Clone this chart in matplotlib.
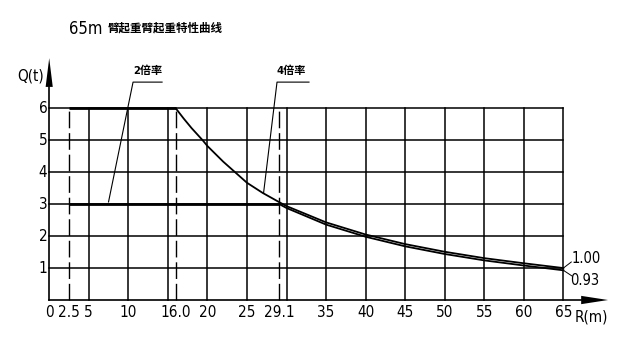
import matplotlib
matplotlib.use('Agg')
import matplotlib.pyplot as plt
from matplotlib import font_manager

# data
r_2x = [16.0, 17, 18, 19.4, 20, 22, 23.5, 25, 27, 29.1, 30, 35, 40, 45, 50, 55, 60, 65]
q_2x = [6.0, 5.68, 5.38, 5.0, 4.82, 4.33, 4.0, 3.67, 3.35, 3.06, 2.94, 2.43, 2.05, 1.75, 1.51, 1.31, 1.15, 1.00]
r_4x = [29.1, 30, 35, 40, 45, 50, 55, 60, 65]
q_4x = [3.0, 2.88, 2.36, 1.98, 1.68, 1.44, 1.24, 1.08, 0.93]
r_start = 2.5
q_max_2x = 6.0
q_max_4x = 3.0

grid_x = [5, 10, 15, 20, 25, 30, 35, 40, 45, 50, 55, 60, 65]
grid_y = [1, 2, 3, 4, 5, 6]
dashed_x = [2.5, 16.0, 29.1]
xtick_pos = [0, 2.5, 5, 10, 16.0, 20, 25, 29.1, 35, 40, 45, 50, 55, 60, 65]
xtick_lab = ['0', '2.5', '5', '10', '16.0', '20', '25', '29.1', '35', '40', '45', '50', '55', '60', '65']
ytick_pos = [1, 2, 3, 4, 5, 6]

# pick a narrow face if one is around
names = {f.name for f in font_manager.fontManager.ttflist}
cond = [f for f in font_manager.fontManager.ttflist
        if f.name == 'DejaVu Sans' and f.stretch in ('condensed', 'semi-condensed')]
if 'Liberation Sans Narrow' in names:
    base, stretch, fs = 'Liberation Sans Narrow', 'normal', 12
elif cond:
    base, stretch, fs = 'DejaVu Sans', 'condensed', 11
else:
    base, stretch, fs = 'Liberation Sans', 'normal', 11
narrow = [base, 'DejaVu Sans']
cjk = [base, 'Noto Sans CJK SC', 'DejaVu Sans']

fig = plt.figure(figsize=(6.31, 3.48), dpi=100)
ax = fig.add_axes([0, 0, 1, 1])
ax.set_xlim(-6.22, 73.55)
ax.set_ylim(-1.502, 9.39)
ax.axis('off')

x_max = grid_x[-1]
y_max = grid_y[-1]

# grid
for gx in grid_x:
    ax.plot([gx, gx], [0, y_max], color='black', lw=1.1)
for gy in grid_y:
    ax.plot([0, x_max], [gy, gy], color='black', lw=1.1)
for dx in dashed_x:
    ax.plot([dx, dx], [0, y_max], color='black', lw=1.0, linestyle=(0, (12, 3.5)))

# axes with arrows
x_end, y_end = 70.65, 7.57
ax.plot([0, x_end - 3.4], [0, 0], color='black', lw=1.2)
ax.plot([0, 0], [0, y_end - 0.9], color='black', lw=1.2)
ax.fill([x_end - 3.4, x_end, x_end - 3.4], [0.13, 0, -0.13], color='black', lw=0)
ax.fill([-0.45, 0, 0.45], [y_end - 0.9, y_end, y_end - 0.9], color='black', lw=0)

# load curves
ax.plot([r_start, r_2x[0]], [q_max_2x, q_max_2x], color='black', lw=2.0, solid_capstyle='butt')
ax.plot([r_start, r_4x[0]], [q_max_4x, q_max_4x], color='black', lw=2.0, solid_capstyle='butt')
ax.plot(r_2x, q_2x, color='black', lw=1.3)
ax.plot(r_4x, q_4x, color='black', lw=1.3)

txt = dict(family=narrow, fontstretch=stretch)

# tick labels
for x, lab in zip(xtick_pos, xtick_lab):
    ax.text(x, -0.38, lab, ha='center', va='center', fontsize=fs, **txt)
for y in ytick_pos:
    ax.text(-0.78, y, str(y), ha='center', va='center', fontsize=fs, **txt)
ax.text(68.6, -0.52, 'R(m)', ha='center', va='center', fontsize=fs, **txt)
ax.text(-2.3, 7.0, 'Q(t)', ha='center', va='center', fontsize=fs, **txt)

# end values
ax.plot([x_max, 66.0], [q_2x[-1], 1.19], color='black', lw=0.7)
ax.plot([x_max, 66.1], [q_4x[-1], 0.75], color='black', lw=0.7)
ax.text(66.0, 1.31, '%.2f' % q_2x[-1], ha='left', va='center', fontsize=fs - 0.5, **txt)
ax.text(65.8, 0.62, '%.2f' % q_4x[-1], ha='left', va='center', fontsize=fs - 0.5, **txt)

# leader labels
ax.plot([7.5, 10.6, 14.27], [3.07, 6.82, 6.82], color='black', lw=0.8)
ax.text(12.5, 7.17, '2倍率', ha='center', va='center', fontsize=8, fontweight='bold',
        family=cjk, fontstretch=stretch)
ax.plot([27.1, 28.8, 32.84], [3.35, 6.82, 6.82], color='black', lw=0.8)
ax.text(30.6, 7.17, '4倍率', ha='center', va='center', fontsize=8, fontweight='bold',
        family=cjk, fontstretch=stretch)

# title
fig.text(69 / 631, 1 - 29 / 348, '65m', ha='left', va='center', fontsize=12, **txt)
fig.text(108 / 631, 1 - 28 / 348, '臂起重臂起重特性曲线', ha='left', va='center',
         fontsize=8.3, fontweight='bold', family=['Noto Sans CJK SC', 'DejaVu Sans'])

fig.savefig('out.png', dpi=100)
